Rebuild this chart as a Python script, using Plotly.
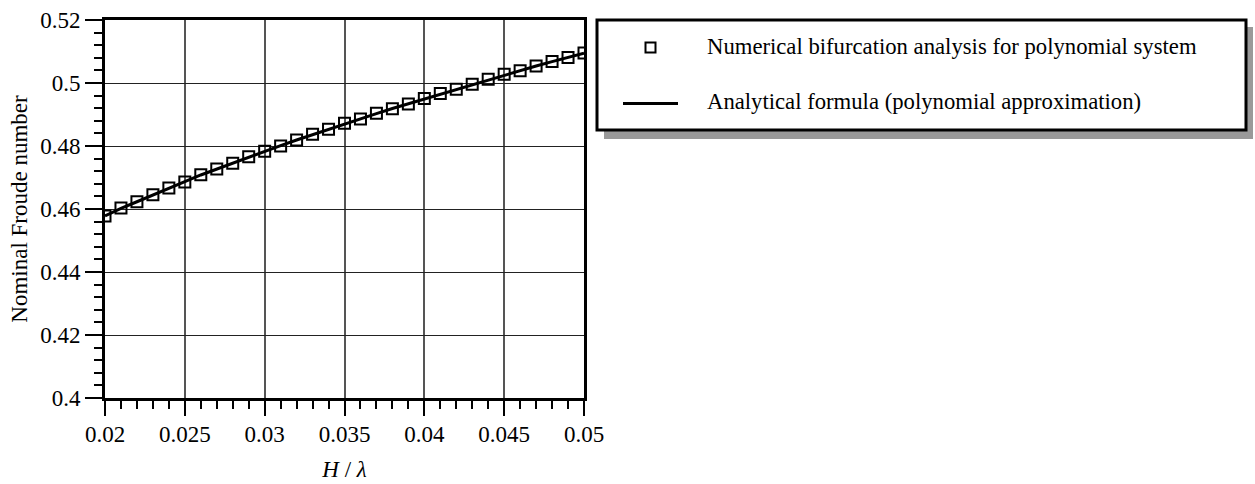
import plotly.graph_objects as go

# Data
h_over_lambda = [0.020, 0.021, 0.022, 0.023, 0.024, 0.025, 0.026, 0.027, 0.028, 0.029,
                 0.030, 0.031, 0.032, 0.033, 0.034, 0.035, 0.036, 0.037, 0.038, 0.039,
                 0.040, 0.041, 0.042, 0.043, 0.044, 0.045, 0.046, 0.047, 0.048, 0.049, 0.050]
froude_numerical = [0.4578, 0.4603, 0.4623, 0.4645, 0.4667, 0.4686, 0.4709, 0.4727, 0.4745, 0.4766,
                    0.4783, 0.4800, 0.4819, 0.4837, 0.4853, 0.4872, 0.4886, 0.4904, 0.4918, 0.4933,
                    0.4951, 0.4967, 0.4980, 0.4996, 0.5012, 0.5028, 0.5039, 0.5054, 0.5068, 0.5081, 0.5095]
froude_analytical = [0.4578, 0.4602, 0.4623, 0.4645, 0.4666, 0.4687, 0.4708, 0.4727, 0.4746, 0.4765,
                     0.4783, 0.4801, 0.4819, 0.4836, 0.4854, 0.4871, 0.4887, 0.4903, 0.4919, 0.4934,
                     0.4950, 0.4966, 0.4981, 0.4996, 0.5011, 0.5026, 0.5040, 0.5054, 0.5068, 0.5081, 0.5095]
legend_labels = ["Numerical bifurcation analysis for polynomial system",
                 "Analytical formula (polynomial approximation)"]

W, H = 1255, 484
L, R, T, B = 105, 584, 20, 398
FONT = "Liberation Serif, Times New Roman, serif"

fig = go.Figure()
fig.add_trace(go.Scatter(x=h_over_lambda, y=froude_numerical, mode="markers",
                         marker=dict(symbol="square-open", size=11, color="black",
                                     line=dict(width=2, color="black")),
                         showlegend=False))
fig.add_trace(go.Scatter(x=h_over_lambda, y=froude_analytical, mode="lines",
                         line=dict(color="black", width=3), showlegend=False))

def px(x):
    return (x - L) / (R - L)

def py(y):
    return (B - y) / (B - T)

# Legend box with shadow
shapes = [
    dict(type="rect", xref="paper", yref="paper", x0=px(604), x1=px(1253), y0=py(27), y1=py(139),
         fillcolor="#999999", line=dict(width=0), layer="above"),
    dict(type="rect", xref="paper", yref="paper", x0=px(597), x1=px(1246), y0=py(20), y1=py(130),
         fillcolor="white", line=dict(width=3, color="black"), layer="above"),
    dict(type="rect", xref="paper", yref="paper", x0=px(645.5), x1=px(655.5), y0=py(42.5), y1=py(52.5),
         fillcolor="white", line=dict(width=2, color="black"), layer="above"),
    dict(type="line", xref="paper", yref="paper", x0=px(623), x1=px(678), y0=py(103.5), y1=py(103.5),
         line=dict(width=3, color="black"), layer="above"),
]
annotations = [
    dict(text=legend_labels[0], xref="paper", yref="paper", x=px(705), y=py(46),
         xanchor="left", yanchor="middle", showarrow=False,
         font=dict(family=FONT, size=22.7, color="black")),
    dict(text=legend_labels[1], xref="paper", yref="paper", x=px(705), y=py(101),
         xanchor="left", yanchor="middle", showarrow=False,
         font=dict(family=FONT, size=22.7, color="black")),
]

fig.update_layout(
    width=W, height=H,
    margin=dict(l=L, r=W - R, t=T, b=H - B, pad=0),
    paper_bgcolor="white", plot_bgcolor="white",
    font=dict(family=FONT, size=23, color="black"),
    shapes=shapes, annotations=annotations,
    xaxis=dict(range=[0.02, 0.05], tick0=0.02, dtick=0.005, ticks="outside", ticklen=15,
               tickwidth=1.5, tickcolor="black", ticklabelstandoff=-2, automargin=False,
               minor=dict(dtick=0.001, ticks="outside", ticklen=8, tickwidth=1.5, tickcolor="black",
                          showgrid=False),
               showgrid=True, gridcolor="#555555", gridwidth=1.5,
               showline=True, linecolor="black", linewidth=3, mirror=True, zeroline=False,
               title=dict(text="<i>H</i> / <i>λ</i>", font=dict(size=23), standoff=16),
               tickfont=dict(size=23)),
    yaxis=dict(range=[0.4, 0.52], tick0=0.4, dtick=0.02, ticks="outside", ticklen=17,
               tickwidth=1.5, tickcolor="black", automargin=False,
               minor=dict(dtick=0.004, ticks="outside", ticklen=8, tickwidth=1.5, tickcolor="black",
                          showgrid=False),
               showgrid=True, gridcolor="#222222", gridwidth=1.2,
               showline=True, linecolor="black", linewidth=3, mirror=True, zeroline=False,
               title=dict(text="Nominal Froude number", font=dict(size=23), standoff=7),
               tickfont=dict(size=23)),
)

fig.write_html("out.html")
